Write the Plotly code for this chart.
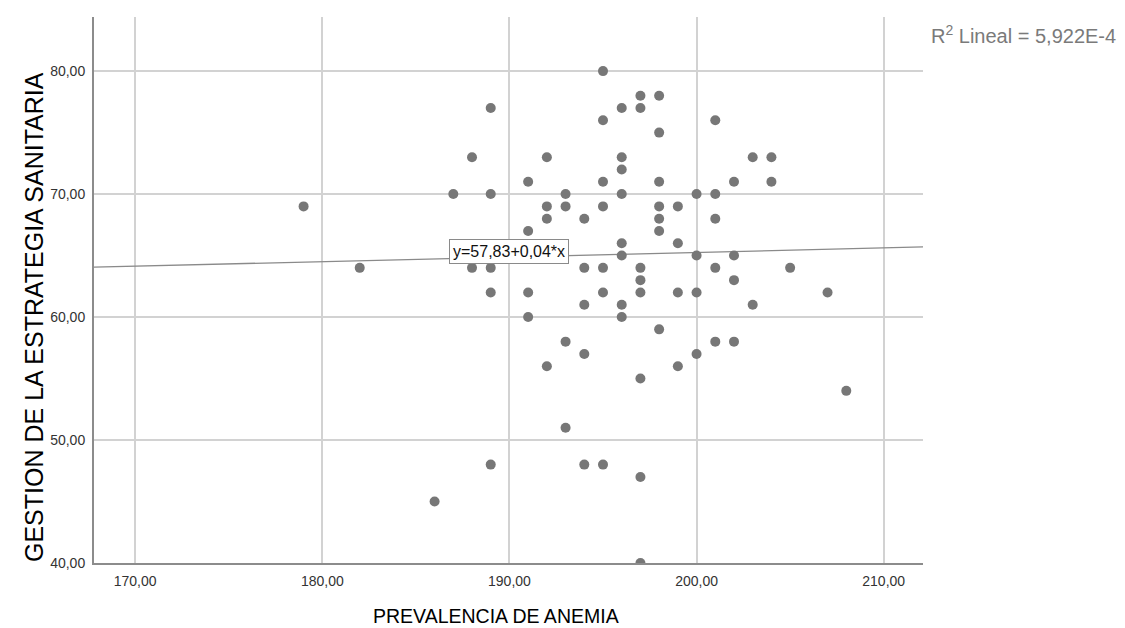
import plotly.graph_objects as go
import numpy as np

# Data (PREVALENCIA DE ANEMIA vs GESTION DE LA ESTRATEGIA SANITARIA)
prevalencia = [179, 182, 186, 187, 188, 188, 189, 189, 189, 189, 189,
               191, 191, 191, 191, 192, 192, 192, 192, 193, 193, 193, 193,
               194, 194, 194, 194, 194, 195, 195, 195, 195, 195, 195, 195,
               196, 196, 196, 196, 196, 196, 196, 196,
               197, 197, 197, 197, 197, 197, 197, 197,
               198, 198, 198, 198, 198, 198, 198,
               199, 199, 199, 199, 200, 200, 200, 200,
               201, 201, 201, 201, 201, 202, 202, 202, 202,
               203, 203, 204, 204, 205, 207, 208]
gestion = [69, 64, 45, 70, 73, 64, 77, 70, 64, 62, 48,
           71, 67, 62, 60, 73, 69, 68, 56, 70, 69, 58, 51,
           68, 64, 61, 57, 48, 80, 76, 71, 69, 64, 62, 48,
           77, 73, 72, 70, 66, 65, 61, 60,
           78, 77, 64, 63, 62, 55, 47, 40,
           78, 75, 71, 69, 68, 67, 59,
           69, 66, 62, 56, 70, 65, 62, 57,
           76, 70, 68, 64, 58, 71, 65, 63, 58,
           73, 61, 73, 71, 64, 62, 54]

x_ticks = [170, 180, 190, 200, 210]
y_ticks = [40, 50, 60, 70, 80]
x_tick_labels = ["170,00", "180,00", "190,00", "200,00", "210,00"]
y_tick_labels = ["40,00", "50,00", "60,00", "70,00", "80,00"]

x_title = "PREVALENCIA DE ANEMIA"
y_title = "GESTION DE LA ESTRATEGIA SANITARIA"

fit_intercept = 57.83
fit_slope = 0.0371
equation_label = "y=57,83+0,04*x"
r2_label = "R<sup>2</sup> Lineal = 5,922E-4"

x_range = [167.8, 212.1]
y_range = [40, 84.4]

line_x = np.array(x_range)
line_y = fit_intercept + fit_slope * line_x

W, H = 1125, 628
ML, MR, MT, MB = 94, 202, 17, 65
plot_w = W - ML - MR
plot_h = H - MT - MB


def px_to_paper(px, py):
    return (px - ML) / plot_w, (H - MB - py) / plot_h


font_family = "Liberation Sans, Arial, sans-serif"

fig = go.Figure()
fig.add_trace(go.Scatter(
    x=line_x, y=line_y, mode="lines",
    line=dict(color="#8a8a8a", width=1.3),
    hoverinfo="skip", showlegend=False,
))
fig.add_trace(go.Scatter(
    x=prevalencia, y=gestion, mode="markers",
    marker=dict(color="#777777", size=10, line=dict(width=0)),
    showlegend=False,
))

fig.add_annotation(
    x=189.95, y=65.3, xref="x", yref="y",
    text=equation_label, showarrow=False,
    font=dict(family=font_family, size=16, color="#111111"),
    bgcolor="white", bordercolor="#8a8a8a", borderwidth=1, borderpad=3,
)
rx, ry = px_to_paper(1118, 34)
fig.add_annotation(
    x=rx, y=ry, xref="paper", yref="paper",
    text=r2_label, showarrow=False,
    font=dict(family=font_family, size=20, color="#7a7a7a"),
    xanchor="right", yanchor="middle",
)
tx, ty = px_to_paper(496, 616)
fig.add_annotation(
    x=tx, y=ty, xref="paper", yref="paper",
    text=x_title, showarrow=False,
    font=dict(family=font_family, size=19.5, color="#000000"),
    xanchor="center", yanchor="middle",
)
tx, ty = px_to_paper(34, 317)
fig.add_annotation(
    x=tx, y=ty, xref="paper", yref="paper",
    text=y_title, showarrow=False, textangle=-90,
    font=dict(family=font_family, size=25, color="#000000"),
    xanchor="center", yanchor="middle",
)

fig.update_layout(
    width=W, height=H,
    margin=dict(l=ML, r=MR, t=MT, b=MB),
    plot_bgcolor="white", paper_bgcolor="white",
    font=dict(family=font_family, color="#222222"),
    xaxis=dict(
        range=x_range, tickmode="array", tickvals=x_ticks, ticktext=x_tick_labels,
        showgrid=True, gridcolor="#d2d2d2", gridwidth=1.5,
        showline=True, linecolor="#8c8c8c", linewidth=2,
        ticks="", zeroline=False, ticklabelstandoff=4,
        tickfont=dict(size=14, color="#333333"),
    ),
    yaxis=dict(
        range=y_range, tickmode="array", tickvals=y_ticks, ticktext=y_tick_labels,
        showgrid=True, gridcolor="#d2d2d2", gridwidth=1.5,
        showline=True, linecolor="#8c8c8c", linewidth=2,
        ticks="", zeroline=False, ticklabelstandoff=4,
        tickfont=dict(size=14, color="#333333"),
    ),
)

fig.write_html(
    "out.html",
    config={"displayModeBar": False},
    post_script="document.body.style.margin='0';document.body.style.overflow='hidden';",
)
